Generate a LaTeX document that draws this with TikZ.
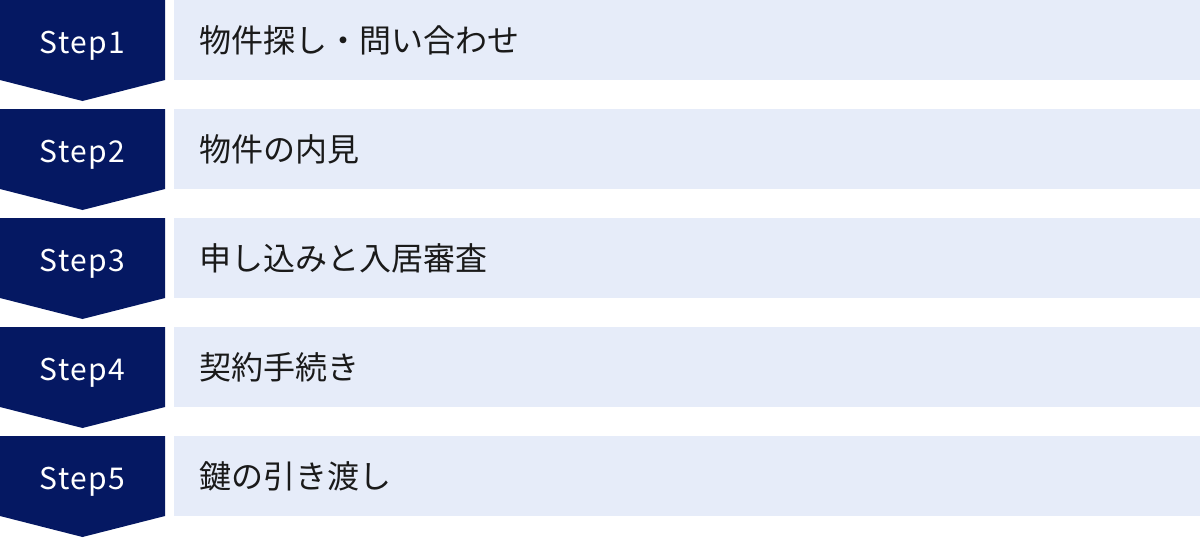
\documentclass[tikz,border=0pt]{standalone}
\usepackage{fontspec}
\setmainfont{Noto Sans}
\newfontfamily\jpfont{Noto Sans CJK JP}
\newfontfamily\stepfont[LetterSpace=5]{Noto Sans CJK JP}
\usepackage{xcolor}
\definecolor{stepnavy}{HTML}{051862}
\definecolor{tasklight}{HTML}{E6ECF9}
\definecolor{tasktext}{HTML}{1A1A1A}

\begin{document}
\begin{tikzpicture}[x=1pt,y=-1pt]
\useasboundingbox (0,0) rectangle (1200,538);
% step 1
\fill [stepnavy] (0,0) -- (165,0) -- (165,80) -- (82.5,101) -- (0,80) -- cycle;
\fill [tasklight] (174,0) rectangle (1200,80);
\node (step1) [white,anchor=base,font=\stepfont\fontsize{30}{30}\selectfont] at (82.5,53) {Step1};
\node (task1) [tasktext,anchor=base west,inner sep=0pt,font=\jpfont\fontsize{32}{32}\selectfont] at (199,52.5) {物件探し・問い合わせ};
% step 2
\fill [stepnavy] (0,109) -- (165,109) -- (165,189) -- (82.5,210) -- (0,189) -- cycle;
\fill [tasklight] (174,109) rectangle (1200,189);
\node (step2) [white,anchor=base,font=\stepfont\fontsize{30}{30}\selectfont] at (82.5,162) {Step2};
\node (task2) [tasktext,anchor=base west,inner sep=0pt,font=\jpfont\fontsize{32}{32}\selectfont] at (199,161.5) {物件の内見};
% step 3
\fill [stepnavy] (0,218) -- (165,218) -- (165,298) -- (82.5,319) -- (0,298) -- cycle;
\fill [tasklight] (174,218) rectangle (1200,298);
\node (step3) [white,anchor=base,font=\stepfont\fontsize{30}{30}\selectfont] at (82.5,271) {Step3};
\node (task3) [tasktext,anchor=base west,inner sep=0pt,font=\jpfont\fontsize{32}{32}\selectfont] at (199,270.5) {申し込みと入居審査};
% step 4
\fill [stepnavy] (0,327) -- (165,327) -- (165,407) -- (82.5,428) -- (0,407) -- cycle;
\fill [tasklight] (174,327) rectangle (1200,407);
\node (step4) [white,anchor=base,font=\stepfont\fontsize{30}{30}\selectfont] at (82.5,380) {Step4};
\node (task4) [tasktext,anchor=base west,inner sep=0pt,font=\jpfont\fontsize{32}{32}\selectfont] at (199,379.5) {契約手続き};
% step 5
\fill [stepnavy] (0,436) -- (165,436) -- (165,516) -- (82.5,537) -- (0,516) -- cycle;
\fill [tasklight] (174,436) rectangle (1200,516);
\node (step5) [white,anchor=base,font=\stepfont\fontsize{30}{30}\selectfont] at (82.5,489) {Step5};
\node (task5) [tasktext,anchor=base west,inner sep=0pt,font=\jpfont\fontsize{32}{32}\selectfont] at (199,488.5) {鍵の引き渡し};

\end{tikzpicture}
\end{document}
